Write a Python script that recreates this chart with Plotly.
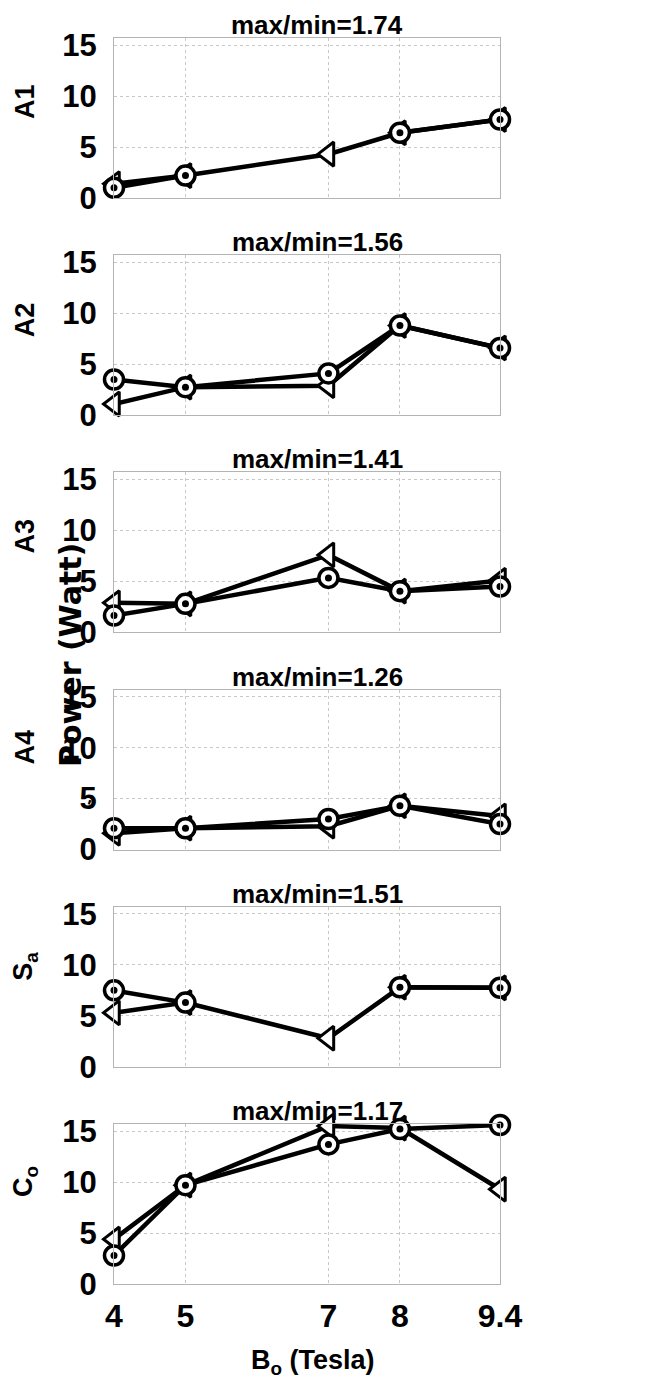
import plotly.graph_objects as go

# ---------------- data ----------------
field_T = [4, 5, 7, 8, 9.4]
x_tick_labels = ["4", "5", "7", "8", "9.4"]
y_ticks = [0, 5, 10, 15]

panel_names = ["A1", "A2", "A3", "A4", "S<sub>a</sub>", "C<sub>o</sub>"]
ratio_titles = ["max/min=1.74", "max/min=1.56", "max/min=1.41",
                "max/min=1.26", "max/min=1.51", "max/min=1.17"]

A1_circle = [1.0, 2.2, None, 6.4, 7.7]
A1_tri = [1.4, 2.2, 4.3, 6.4, 7.7]
A2_circle = [3.5, 2.75, 4.1, 8.8, 6.6]
A2_tri = [1.1, 2.75, 2.9, 8.8, 6.6]
A3_circle = [1.65, 2.8, 5.35, 4.05, 4.5]
A3_tri = [2.9, 2.8, 7.6, 4.05, 5.1]
A4_circle = [2.1, 2.1, 3.0, 4.3, 2.5]
A4_tri = [1.6, 2.1, 2.3, 4.3, 3.3]
Sa_circle = [7.5, 6.3, None, 7.8, 7.75]
Sa_tri = [5.3, 6.3, 2.8, 7.8, 7.75]
Co_circle = [2.8, 9.7, 13.7, 15.2, 15.6]
Co_tri = [4.4, 9.7, 15.5, 15.3, 9.3]

circle_series = [A1_circle, A2_circle, A3_circle, A4_circle, Sa_circle, Co_circle]
tri_series = [A1_tri, A2_tri, A3_tri, A4_tri, Sa_tri, Co_tri]

# ---------------- layout geometry (screen pixels) ----------------
W, H = 646, 1382
X_LEFT, X_RIGHT = 114, 500
PANEL_H = 160
PITCH = 217.2
TOP0 = 38
Y_MAX = 15.7

FONT = "Liberation Sans, Arial, sans-serif"
WIDE_FONT = "DejaVu Sans, Liberation Sans, sans-serif"


def px(x):
    return x / W


def py(y):
    return 1 - y / H


fig = go.Figure()
annotations = []

for i in range(6):
    top = TOP0 + i * PITCH
    bot = top + PANEL_H
    sfx = "" if i == 0 else str(i + 1)
    xa, ya = "x" + sfx, "y" + sfx

    # triangle series (drawn first)
    fig.add_trace(go.Scatter(
        x=field_T, y=tri_series[i], xaxis=xa, yaxis=ya, mode="lines+markers",
        line=dict(color="black", width=4.5),
        marker=dict(symbol="triangle-left", size=21, color="white",
                    line=dict(color="black", width=3)),
        cliponaxis=False, showlegend=False, hoverinfo="skip"))
    # circle series
    fig.add_trace(go.Scatter(
        x=field_T, y=circle_series[i], xaxis=xa, yaxis=ya, mode="lines+markers",
        line=dict(color="black", width=4.5),
        marker=dict(symbol="circle", size=19, color="white",
                    line=dict(color="black", width=3.5)),
        cliponaxis=False, showlegend=False, hoverinfo="skip"))
    # centre dots of circles
    fig.add_trace(go.Scatter(
        x=field_T, y=circle_series[i], xaxis=xa, yaxis=ya, mode="markers",
        marker=dict(symbol="circle", size=7, color="black"),
        cliponaxis=False, showlegend=False, hoverinfo="skip"))

    last = (i == 5)
    xaxis = dict(
        domain=[px(X_LEFT), px(X_RIGHT)], range=[4, 9.4],
        tickmode="array", tickvals=field_T, ticktext=x_tick_labels,
        showticklabels=last, ticks="", automargin=False,
        tickfont=dict(family=FONT, size=32, color="black", weight="bold"),
        ticklabelstandoff=4,
        showgrid=True, gridcolor="#c8c8c8", griddash="dot", gridwidth=1,
        showline=True, linecolor="#b4b4b4", linewidth=1, mirror=True,
        zeroline=False, anchor=ya, fixedrange=True)
    yaxis = dict(
        domain=[py(bot), py(top)], range=[0, Y_MAX],
        tickmode="array", tickvals=y_ticks, automargin=False,
        ticks="", tickfont=dict(family=FONT, size=31, color="black", weight="bold"),
        ticklabelstandoff=10,
        showgrid=True, gridcolor="#c8c8c8", griddash="dot", gridwidth=1,
        showline=True, linecolor="#b4b4b4", linewidth=1, mirror=True,
        zeroline=False, anchor=xa, fixedrange=True)
    fig.layout["xaxis" + sfx] = xaxis
    fig.layout["yaxis" + sfx] = yaxis

    # panel title
    annotations.append(dict(
        text=ratio_titles[i], x=px(317), y=py(top - 13), xref="paper", yref="paper",
        xanchor="center", yanchor="middle", showarrow=False,
        font=dict(family=FONT, size=26, color="black", weight="bold")))
    # panel y label
    label_off = [64, 65, 64, 58, 60, 58][i]
    annotations.append(dict(
        text=panel_names[i], x=px(25), y=py(top + label_off), xref="paper", yref="paper",
        xanchor="center", yanchor="middle", showarrow=False, textangle=-90,
        font=dict(family=FONT, size=27, color="black", weight="bold")))

# common y label
annotations.append(dict(
    text="Power (Watt)", x=px(70), y=py(655), xref="paper", yref="paper",
    xanchor="center", yanchor="middle", showarrow=False, textangle=-90,
    font=dict(family=WIDE_FONT, size=30, color="black", weight="bold")))
annotations.append(dict(
    text="'", x=px(88), y=py(806), xref="paper", yref="paper",
    xanchor="center", yanchor="middle", showarrow=False, textangle=20,
    font=dict(family=FONT, size=18, color="black", weight="bold")))
# x title
annotations.append(dict(
    text="B<sub>o</sub> (Tesla)", x=px(313), y=py(1362), xref="paper", yref="paper",
    xanchor="center", yanchor="middle", showarrow=False,
    font=dict(family=FONT, size=27, color="black", weight="bold")))

fig.update_layout(
    template="none",
    width=W, height=H, autosize=False,
    margin=dict(l=0, r=0, t=0, b=0, pad=0, autoexpand=False),
    paper_bgcolor="white", plot_bgcolor="white",
    showlegend=False, annotations=annotations)

fig.write_html(
    "out.html",
    config={"displayModeBar": False},
    post_script=("document.documentElement.style.margin='0';"
                 "document.body.style.margin='0';"
                 "document.documentElement.style.overflow='hidden';"
                 "document.body.style.overflow='hidden';"))
